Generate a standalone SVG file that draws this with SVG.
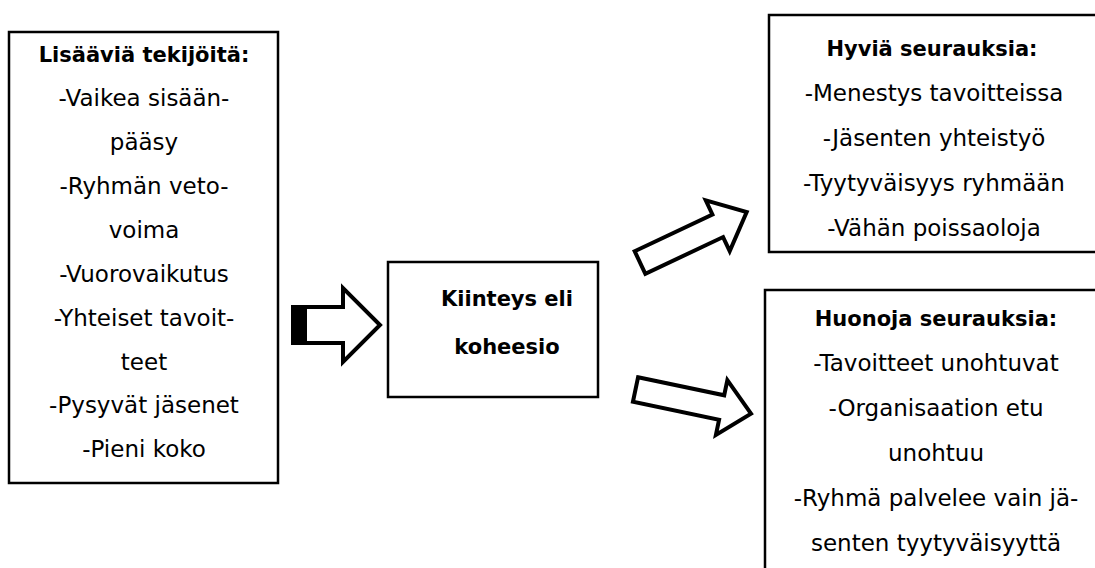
<svg xmlns="http://www.w3.org/2000/svg" width="1095" height="568" viewBox="0 0 1095 568">
<style>
.box{fill:#fff;stroke:#000;stroke-width:2.5}
.arr{fill:#fff;stroke:#000;stroke-width:4;stroke-linejoin:miter}
text{font-family:"DejaVu Sans",Verdana,sans-serif;fill:#000;text-anchor:middle}
.t{font-size:23px}
.b{font-size:21px;font-weight:bold}
</style>
<rect width="1095" height="568" fill="#fff"/>
<g id="connectors">
<polygon class="arr" points="293,307 343,307 343,288 380,325 343,362 343,343 293,343"/>
<rect x="293" y="307" width="14" height="36" fill="#000"/>
<polygon class="arr" transform="translate(640,262.5) rotate(-25.3)" points="0,-12.5 86,-12.5 86,-28 118,0 86,28 86,12.5 0,12.5"/>
<polygon class="arr" transform="translate(635.5,389.5) rotate(11.8)" points="0,-12.5 88,-12.5 88,-28 118,0 88,28 88,12.5 0,12.5"/>
</g>
<g id="left">
<rect class="box" x="9" y="32" width="269" height="451"/>
<text class="b" x="144" y="62">Lisääviä tekijöitä:</text>
<text class="t" x="144" y="106">-Vaikea sisään-</text>
<text class="t" x="144" y="150">pääsy</text>
<text class="t" x="144" y="194">-Ryhmän veto-</text>
<text class="t" x="144" y="238">voima</text>
<text class="t" x="144" y="282">-Vuorovaikutus</text>
<text class="t" x="144" y="326">-Yhteiset tavoit-</text>
<text class="t" x="144" y="370">teet</text>
<text class="t" x="144" y="413">-Pysyvät jäsenet</text>
<text class="t" x="144" y="457">-Pieni koko</text>
</g>
<g id="center">
<rect class="box" x="388" y="262" width="210" height="135"/>
<text class="b" x="507" y="306">Kiinteys eli</text>
<text class="b" x="507" y="354">koheesio</text>
</g>
<g id="good">
<rect class="box" x="769" y="15" width="340" height="237"/>
<text class="b" x="932" y="56">Hyviä seurauksia:</text>
<text class="t" x="934" y="101">-Menestys tavoitteissa</text>
<text class="t" x="934" y="146">-Jäsenten yhteistyö</text>
<text class="t" x="934" y="191">-Tyytyväisyys ryhmään</text>
<text class="t" x="934" y="236">-Vähän poissaoloja</text>
</g>
<g id="bad">
<rect class="box" x="765" y="290" width="340" height="300"/>
<text class="b" x="936" y="326">Huonoja seurauksia:</text>
<text class="t" x="936" y="371">-Tavoitteet unohtuvat</text>
<text class="t" x="936" y="416">-Organisaation etu</text>
<text class="t" x="936" y="461">unohtuu</text>
<text class="t" x="936" y="506">-Ryhmä palvelee vain jä-</text>
<text class="t" x="936" y="551">senten tyytyväisyyttä</text>
</g>
</svg>
